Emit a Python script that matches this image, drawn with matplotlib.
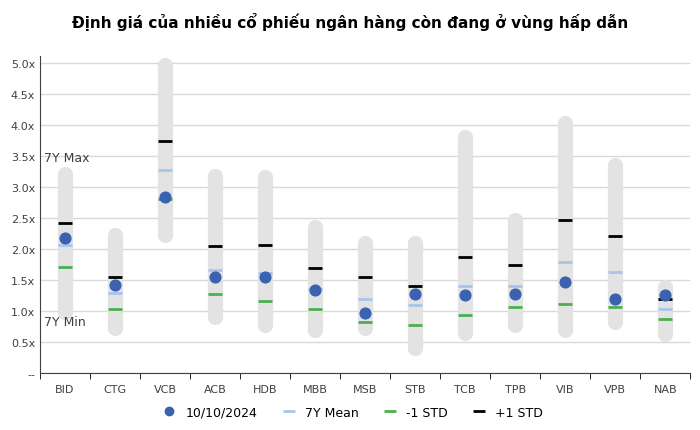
import numpy as np
import matplotlib.pyplot as plt
from matplotlib.lines import Line2D

banks = ['BID', 'CTG', 'VCB', 'ACB', 'HDB', 'MBB', 'MSB', 'STB', 'TCB', 'TPB', 'VIB', 'VPB', 'NAB']
max_7y = [3.25, 2.26, 5.00, 3.22, 3.19, 2.40, 2.14, 2.14, 3.84, 2.51, 4.07, 3.39, 1.43]
min_7y = [0.95, 0.68, 2.18, 0.87, 0.73, 0.65, 0.68, 0.36, 0.60, 0.74, 0.65, 0.79, 0.59]
plus_std = [2.42, 1.55, 3.74, 2.04, 2.06, 1.69, 1.54, 1.40, 1.87, 1.74, 2.46, 2.20, 1.20]
mean_7y = [2.06, 1.29, 3.27, 1.66, 1.61, 1.36, 1.19, 1.09, 1.41, 1.41, 1.79, 1.63, 1.03]
minus_std = [1.71, 1.03, 2.80, 1.28, 1.16, 1.03, 0.82, 0.78, 0.94, 1.07, 1.12, 1.07, 0.87]
current = [2.17, 1.42, 2.83, 1.55, 1.55, 1.34, 0.96, 1.28, 1.25, 1.28, 1.47, 1.20, 1.25]

yticks = [0, 0.5, 1.0, 1.5, 2.0, 2.5, 3.0, 3.5, 4.0, 4.5, 5.0]
ytick_labels = ['--'] + [f'{v:.1f}x' for v in yticks[1:]]

fig = plt.figure(figsize=(7, 4.31), dpi=100)
ax = fig.add_axes([0.057, 0.132, 0.929, 0.735])
x = np.arange(len(banks))
cap = 0.04  # round cap overhang in data units

for i in x:
    ax.plot([i, i], [min_7y[i] + cap, max_7y[i] - cap], color='#e3e3e3',
            lw=11, solid_capstyle='round', zorder=1)

ax.scatter(x, plus_std, marker='_', s=110, color='black', linewidths=2, zorder=3)
ax.scatter(x, mean_7y, marker='_', s=110, color='#a9c4eb', linewidths=2, zorder=3)
ax.scatter(x, minus_std, marker='_', s=110, color='#4caf50', linewidths=2, zorder=3)
ax.scatter(x, current, s=60, color='#3a62b0', zorder=4)

ax.set_xlim(-0.5, len(banks) - 0.5)
ax.set_ylim(0, 5.1)
ax.set_yticks(yticks)
ax.set_yticklabels(ytick_labels, fontsize=8, color='#404040')
ax.set_xticks(x)
ax.set_xticklabels(banks, fontsize=8, color='#404040')
ax.set_xticks(np.arange(-0.5, len(banks)), minor=True)
ax.tick_params(axis='x', which='major', length=0, pad=8)
ax.tick_params(axis='x', which='minor', length=4)
ax.tick_params(axis='y', length=0)
ax.grid(axis='y', color='#d9d9d9', lw=1)
ax.set_axisbelow(True)
for s in ['top', 'right']:
    ax.spines[s].set_visible(False)
ax.spines['left'].set_color('#404040')
ax.spines['bottom'].set_color('#404040')

ax.text(-0.42, 3.42, '7Y Max', fontsize=9, color='#404040')
ax.text(-0.42, 0.78, '7Y Min', fontsize=9, color='#404040')

fig.suptitle('Định giá của nhiều cổ phiếu ngân hàng còn đang ở vùng hấp dẫn',
             fontsize=11, fontweight='bold', y=0.97)

handles = [
    Line2D([], [], marker='o', ls='', color='#3a62b0', markersize=6),
    Line2D([], [], marker='_', ls='', color='#a9c4eb', markersize=8, mew=2),
    Line2D([], [], marker='_', ls='', color='#4caf50', markersize=8, mew=2),
    Line2D([], [], marker='_', ls='', color='black', markersize=8, mew=2),
]
fig.legend(handles, ['10/10/2024', '7Y Mean', '-1 STD', '+1 STD'], loc='lower center',
           ncol=4, frameon=False, fontsize=9, bbox_to_anchor=(0.5, 0.0),
           handletextpad=0.3, columnspacing=1.5)

fig.savefig('out.png', dpi=100)
